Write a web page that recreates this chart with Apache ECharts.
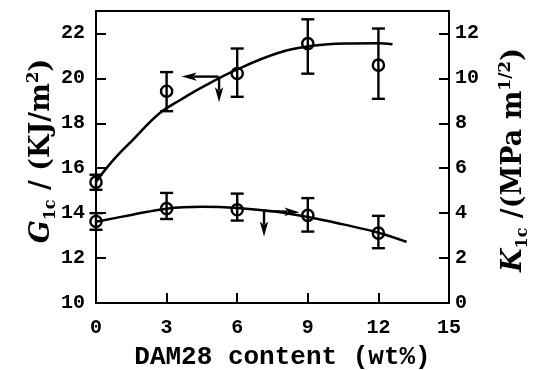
<!DOCTYPE html>
<html>
<head>
<meta charset="utf-8">
<script src="https://cdn.jsdelivr.net/npm/echarts@6/dist/echarts.min.js"></script>
<style>
  html, body { margin: 0; padding: 0; background: #fff; }
  #chart { width: 534px; height: 370px; }
</style>
</head>
<body>
<div id="chart"></div>
<script>
// DAM28 loading (wt%)
const contentWt = [0, 3, 6, 9, 12];

// Fracture energy G1c (KJ/m^2): mean and error-bar limits
const g1cMean = [15.38, 19.43, 20.22, 21.55, 20.59];
const g1cLow  = [15.04, 18.54, 19.18, 20.21, 19.09];
const g1cHigh = [15.71, 20.28, 21.33, 22.63, 22.22];

// Fracture toughness K1c (MPa m^1/2): mean and error-bar limits
const k1cMean = [3.63, 4.20, 4.15, 3.90, 3.11];
const k1cLow  = [3.26, 3.74, 3.67, 3.18, 2.44];
const k1cHigh = [4.00, 4.90, 4.87, 4.67, 3.88];

// Trend curves drawn through each data set
const g1cTrendX = [0, 0.75, 1.6, 2.7, 3.6, 4.5, 6, 7.8, 9.2, 10.6, 12, 12.6];
const g1cTrendY = [15.4, 16.38, 17.3, 18.45, 19.05, 19.6, 20.4, 21.15, 21.45, 21.55, 21.56, 21.52];
const k1cTrendX = [0, 1.5, 3, 4.5, 6, 7.5, 9, 10.5, 12, 13.2];
const k1cTrendY = [3.62, 3.92, 4.2, 4.28, 4.23, 4.08, 3.83, 3.5, 3.13, 2.72];

// Axis-pointer arrows [xFrom, yFrom, xTo, yTo]
const g1cArrows = [[5.2, 20.08, 3.64, 20.08], [5.23, 20.08, 5.23, 18.94]];
const k1cArrows = [[7.14, 4.10, 8.64, 4.04], [7.14, 4.10, 7.14, 2.96]];

// Axis ticks
const xTicks = { min: 0, max: 15, interval: 3 };
const g1cTicks = { min: 10, max: 23, interval: 2 };
const k1cTicks = { min: 0, max: 13, interval: 2 };

const INK = '#000';
const tickFont = { fontFamily: 'Liberation Mono', fontWeight: 'bold', fontSize: 20, color: INK };

const titleRich = {
  it:  { fontFamily: 'DejaVu Serif', fontWeight: 'bold', fontStyle: 'italic', fontSize: 27, lineHeight: 34, color: INK },
  n:   { fontFamily: 'DejaVu Serif', fontWeight: 'bold', fontSize: 27, lineHeight: 34, color: INK },
  sub: { fontFamily: 'DejaVu Serif', fontWeight: 'bold', fontSize: 16, lineHeight: 16, verticalAlign: 'bottom', color: INK },
  sup: { fontFamily: 'DejaVu Serif', fontWeight: 'bold', fontSize: 17, lineHeight: 17, verticalAlign: 'top', color: INK }
};

function errorBarSeries(name, yAxisIndex, mean, low, high) {
  return {
    name: name,
    type: 'custom',
    yAxisIndex: yAxisIndex,
    z: 5,
    encode: { x: 0, y: [1, 2, 3] },
    data: contentWt.map((x, i) => [x, mean[i], low[i], high[i]]),
    renderItem: function (params, api) {
      const x = api.value(0);
      const c = api.coord([x, api.value(1)]);
      const lo = api.coord([x, api.value(2)]);
      const hi = api.coord([x, api.value(3)]);
      const cap = 6.5;
      const st = { stroke: INK, lineWidth: 2.4, fill: 'none' };
      return {
        type: 'group',
        children: [
          { type: 'line', shape: { x1: lo[0], y1: lo[1], x2: hi[0], y2: hi[1] }, style: st },
          { type: 'line', shape: { x1: lo[0] - cap, y1: lo[1], x2: lo[0] + cap, y2: lo[1] }, style: st },
          { type: 'line', shape: { x1: hi[0] - cap, y1: hi[1], x2: hi[0] + cap, y2: hi[1] }, style: st },
          { type: 'circle', shape: { cx: c[0], cy: c[1], r: 5.6 }, style: { stroke: INK, lineWidth: 2.4, fill: 'none' } }
        ]
      };
    }
  };
}

function arrowSeries(name, yAxisIndex, arrows) {
  return {
    name: name,
    type: 'custom',
    yAxisIndex: yAxisIndex,
    z: 6,
    encode: { x: [0, 2], y: [1, 3] },
    data: arrows,
    renderItem: function (params, api) {
      const p1 = api.coord([api.value(0), api.value(1)]);
      const p2 = api.coord([api.value(2), api.value(3)]);
      const dx = p2[0] - p1[0], dy = p2[1] - p1[1];
      const len = Math.sqrt(dx * dx + dy * dy);
      const ux = dx / len, uy = dy / len;
      const headLen = 15, headHalf = 4.2;
      const bx = p2[0] - ux * headLen, by = p2[1] - uy * headLen;
      return {
        type: 'group',
        children: [
          { type: 'line', shape: { x1: p1[0], y1: p1[1], x2: bx + ux * 3, y2: by + uy * 3 }, style: { stroke: INK, lineWidth: 2.4 } },
          { type: 'polygon', shape: { points: [
              [p2[0], p2[1]],
              [bx - uy * headHalf, by + ux * headHalf],
              [bx + ux * 3.5, by + uy * 3.5],
              [bx + uy * headHalf, by - ux * headHalf]
            ] }, style: { fill: INK } }
        ]
      };
    }
  };
}

const chart = echarts.init(document.getElementById('chart'), null, { renderer: 'canvas' });

chart.setOption({
  animation: false,
  backgroundColor: '#fff',
  grid: {
    left: 96, right: 85, top: 11, bottom: 67,
    containLabel: false, outerBoundsMode: 'none',
    show: true, borderColor: INK, borderWidth: 2
  },
  xAxis: {
    type: 'value',
    min: xTicks.min, max: xTicks.max, interval: xTicks.interval,
    name: 'DAM28 content (wt%)',
    nameLocation: 'middle',
    nameGap: 41,
    nameMoveOverlap: false,
    nameTextStyle: { fontFamily: 'Liberation Mono', fontWeight: 'bold', fontSize: 26, color: INK, padding: [0, 0, 0, 20] },
    axisLine: { show: true, lineStyle: { color: INK, width: 2 } },
    axisTick: { show: true, inside: true, length: 10, lineStyle: { color: INK, width: 2 } },
    axisLabel: Object.assign({ margin: 15 }, tickFont),
    splitLine: { show: false }
  },
  yAxis: [
    {
      type: 'value',
      position: 'left',
      min: g1cTicks.min, max: g1cTicks.max, interval: g1cTicks.interval,
      name: '{it|G}{sub|1c}{n| / (KJ/m}{sup|2}{n|)}',
      nameLocation: 'middle',
      nameRotate: 90,
      nameGap: 37,
      nameMoveOverlap: false,
      nameTextStyle: { rich: titleRich, padding: [0, 0, 0, 12] },
      axisLine: { show: true, lineStyle: { color: INK, width: 2 } },
      axisTick: { show: true, inside: true, length: 10, lineStyle: { color: INK, width: 2 } },
      axisLabel: Object.assign({ margin: 11, showMaxLabel: false }, tickFont),
      splitLine: { show: false }
    },
    {
      type: 'value',
      position: 'right',
      min: k1cTicks.min, max: k1cTicks.max, interval: k1cTicks.interval,
      name: '{it|K}{sub|1c}{n| /(MPa m}{sup|1/2}{n|)}',
      nameLocation: 'middle',
      nameRotate: 90,
      nameGap: 48,
      nameMoveOverlap: false,
      nameTextStyle: { rich: titleRich, padding: [0, 6, 0, 0] },
      axisLine: { show: true, lineStyle: { color: INK, width: 2 } },
      axisTick: { show: true, inside: true, length: 10, lineStyle: { color: INK, width: 2 } },
      axisLabel: Object.assign({ margin: 6, showMaxLabel: false }, tickFont),
      splitLine: { show: false }
    }
  ],
  series: [
    {
      name: 'G1c trend',
      type: 'line',
      yAxisIndex: 0,
      smooth: 0.4,
      showSymbol: false,
      lineStyle: { color: INK, width: 2.5 },
      data: g1cTrendX.map((x, i) => [x, g1cTrendY[i]])
    },
    {
      name: 'K1c trend',
      type: 'line',
      yAxisIndex: 1,
      smooth: 0.4,
      showSymbol: false,
      lineStyle: { color: INK, width: 2.5 },
      data: k1cTrendX.map((x, i) => [x, k1cTrendY[i]])
    },
    errorBarSeries('G1c', 0, g1cMean, g1cLow, g1cHigh),
    errorBarSeries('K1c', 1, k1cMean, k1cLow, k1cHigh),
    arrowSeries('G1c axis', 0, g1cArrows),
    arrowSeries('K1c axis', 1, k1cArrows)
  ]
});
</script>
</body>
</html>
